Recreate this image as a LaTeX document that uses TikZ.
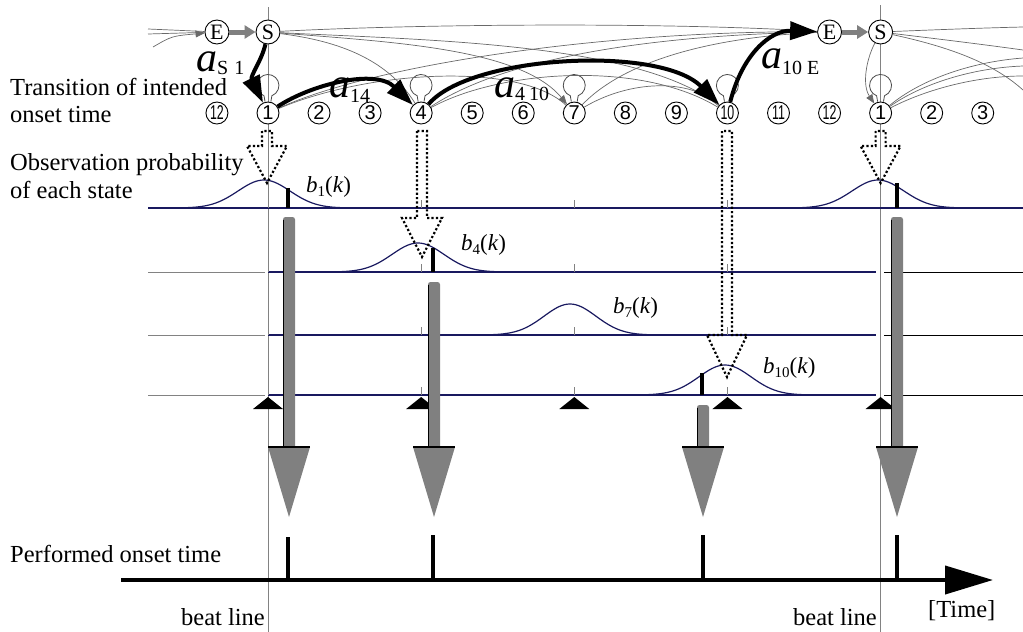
\documentclass[tikz,border=0pt]{standalone}
\usepackage{fontspec}
\usepackage{graphicx}
\setmainfont{Liberation Serif}
\newfontfamily\digitfont{Liberation Sans}
\usetikzlibrary{arrows.meta,calc}

\definecolor{navy}{RGB}{25,25,95}
\definecolor{linkgray}{RGB}{105,105,105}
\definecolor{beatgray}{RGB}{130,130,130}
\definecolor{flowgray}{RGB}{128,128,128}

\newcommand\labtext{\fontsize{24.5}{28}\selectfont}
\newcommand\bigita{\fontsize{42}{42}\selectfont\itshape a}
\newcommand\subup[2]{\raisebox{-#1}{\fontsize{20}{20}\selectfont\upshape #2}}
\newcommand\bprob[1]{{\fontsize{23}{23}\selectfont\textit{b}\raisebox{-4pt}{\fontsize{15}{15}\selectfont #1}(\textit{k})}}
\newcommand\twodig[1]{\scalebox{0.62}[1]{#1}}

% hollow dotted arrow: centre x, shaft top, head base, tip (all as positive y down)
\newcommand\probearrow[4]{%
  \draw[probe] (#1-5,-#2) -- (#1-5,-#3) -- (#1-20,-#3) -- (#1,-#4) --
    (#1+20,-#3) -- (#1+5,-#3) -- (#1+5,-#2) -- cycle;}
% thick grey arrow: centre x, shaft top
\newcommand\flowarrow[2]{%
  \fill[flow,rounded corners=2.5pt] (#1-6,-#2) rectangle (#1+6,-455);
  \draw[line width=1pt] (#1-6,-#2-3) -- (#1-6,-447);
  \fill[flow] (#1-21,-447) -- (#1+21,-447) -- (#1,-517) -- cycle;
  \draw[line width=1.2pt] (#1-21,-447) -- (#1+21,-447);}

\tikzset{
  statenode/.style={circle,draw,fill=white,line width=0.9pt,minimum size=22pt,
    inner sep=0pt,font=\digitfont\fontsize{20}{20}\selectfont},
  esnode/.style={circle,draw,fill=white,line width=0.9pt,minimum size=24pt,
    inner sep=0pt,font=\fontsize{22}{22}\selectfont},
  link/.style={draw=linkgray,line width=0.7pt},
  linkarrow/.style={link,-{Triangle[length=9pt,width=7pt]}},
  heavy/.style={draw=black,line width=4pt,-{Triangle[length=27pt,width=18pt]}},
  selfloop/.style={draw=linkgray!70!black,line width=0.8pt},
  beat/.style={draw=beatgray,line width=1pt},
  rowline/.style={draw=navy,line width=1.6pt},
  rowstub/.style={draw=beatgray,line width=1pt},
  gauss/.style={draw=navy,line width=1.2pt},
  tickmark/.style={draw=beatgray,line width=0.8pt},
  onsetbar/.style={line width=4.5pt},
  probe/.style={draw=black,line width=2.2pt,dash pattern=on 2.2pt off 2.2pt,line join=miter},
  flow/.style={fill=flowgray},
  lab/.style={anchor=base west,inner sep=0pt,font=\labtext},
}

\begin{document}
\begin{tikzpicture}[x=1pt,y=1pt]
\useasboundingbox (0,0) rectangle (1023,-632);

% beat lines
\draw[beat] (268,-7) -- (268,-632);
\draw[beat] (880.6,-5) -- (880.6,-632);

% observation rows
\draw[rowline] (148,-208) -- (1023,-208);
\foreach \yy in {272,335,395}{
  \draw[rowstub] (148,-\yy) -- (265,-\yy);
  \draw[rowline] (268,-\yy) -- (876,-\yy);
  \draw[line width=1pt] (884,-\yy) -- (1023,-\yy);
}
\foreach \yy in {208,272,335,395}
  \foreach \xx in {268,421.15,574.3,727.45}
    \draw[tickmark] (\xx,-\yy) -- (\xx,-\yy+8);

% observation probabilities
\foreach \c/\yy/\h in {264/208/28, 878/208/28, 418/272/29, 570/335/31, 725/395/30}
  \draw[gauss] plot[domain=-80:80,samples=61,smooth]
    ({\c+\x},{-\yy+\h*exp(-0.5*(\x/26)*(\x/26))});

% observed onsets inside the rows
\draw[onsetbar] (288,-208) -- (288,-188);
\draw[onsetbar] (897,-208) -- (897,-183);
\draw[onsetbar] (433,-272) -- (433,-248);
\draw[onsetbar] (702,-395) -- (702,-373);

% labels of the probability curves
\node[anchor=base west,inner sep=0pt] (b1) at (306,-192) {\bprob{1}};
\node[anchor=base west,inner sep=0pt] (b4) at (461,-250) {\bprob{4}};
\node[anchor=base west,inner sep=0pt] (b7) at (613,-313) {\bprob{7}};
\node[anchor=base west,inner sep=0pt] (b10) at (763,-373) {\bprob{10}};

% beat markers
\foreach \xx in {268,421.15,574.3,727.45,880.6}
  \fill (\xx-15,-409) -- (\xx+15,-409) -- (\xx,-397) -- cycle;

% dotted arrows from states to their curves
\probearrow{267}{131}{146}{183}
\probearrow{422}{131}{218}{257}
\probearrow{727}{131}{335}{377}
\probearrow{880.6}{131}{146}{183}

% grey arrows down to performed onsets
\flowarrow{289}{217}
\flowarrow{434}{282}
\flowarrow{703}{405}
\flowarrow{897}{217}

% time axis
\coordinate (ax0) at (121,-580);
\coordinate (ax1) at (993,-580);
\draw[line width=4pt,-{Triangle[length=48pt,width=28pt]}] (ax0) -- (ax1);
\draw[onsetbar] (288,-580) -- (288,-537);
\draw[onsetbar] (433,-580) -- (433,-535);
\draw[onsetbar] (703,-580) -- (703,-535);
\draw[onsetbar] (897,-580) -- (897,-535);

% left-hand texts
\node[lab] (t1) at (10,-95) {Transition of intended};
\node[lab] (t2) at (10,-122) {onset time};
\node[lab] (t3) at (10,-170) {Observation probability};
\node[lab] (t4) at (10,-198) {of each state};
\node[lab] (t5) at (10,-562) {Performed onset time};
\node[lab,anchor=base east] (t6) at (265,-625) {beat line};
\node[lab,anchor=base east] (t7) at (877,-625) {beat line};
\node[lab] (t8) at (928,-617) {[Time]};

% state nodes
\node[esnode] (E1) at (216.95,-32) {E};
\node[esnode] (S1) at (268,-32) {S};
\node[esnode] (E2) at (829.55,-32) {E};
\node[esnode] (S2) at (880.6,-32) {S};

\node[statenode] (s12a) at (216.95,-113) {\twodig{12}};
\node[statenode] (s1) at (268,-113) {1};
\node[statenode] (s2) at (319.05,-113) {2};
\node[statenode] (s3) at (370.1,-113) {3};
\node[statenode] (s4) at (421.15,-113) {4};
\node[statenode] (s5) at (472.2,-113) {5};
\node[statenode] (s6) at (523.25,-113) {6};
\node[statenode] (s7) at (574.3,-113) {7};
\node[statenode] (s8) at (625.35,-113) {8};
\node[statenode] (s9) at (676.4,-113) {9};
\node[statenode] (s10) at (727.45,-113) {\twodig{10}};
\node[statenode] (s11) at (778.5,-113) {\twodig{11}};
\node[statenode] (s12) at (829.55,-113) {\twodig{12}};
\node[statenode] (s1b) at (880.6,-113) {1};
\node[statenode] (s2b) at (931.65,-113) {2};
\node[statenode] (s3b) at (982.7,-113) {3};

% self transitions
\foreach \s in {s1,s4,s7,s10,s1b}
  \draw[selfloop] ($(\s.north)+(-3,0)$) -- ++(-1,5.8)
    arc[start angle=249,end angle=-69,radius=11] -- ++(-1,-5.8);

% thin transitions
\coordinate (inA) at (148,-29);
\coordinate (inB) at (148,-34);
\coordinate (inC) at (153,-47);
\draw[link] (inA) -- (E1);
\draw[link] (inB) -- (E1);
\draw[linkarrow] (inC) .. controls (172,-36) .. (E1);

\draw[link] (S1) .. controls (420,-24) and (660,-22) .. (E2);
\draw[link] (S1) .. controls (420,-40) and (640,-42) .. (s10);
\draw[linkarrow] (S1) .. controls (390,-42) and (520,-48) .. (s7);
\draw[link] (S1) .. controls (330,-40) and (385,-55) .. (s4);
\draw[link] (s1) .. controls (380,-62) and (620,-30) .. (E2);
\draw[link] (s1) .. controls (370,-70) and (520,-62) .. (s7);
\draw[link] (s4) .. controls (520,-48) and (700,-34) .. (E2);
\draw[link] (s4) .. controls (500,-70) and (640,-60) .. (s10);
\draw[link] (s7) .. controls (630,-55) and (730,-36) .. (E2);
\draw[link] (s7) .. controls (630,-80) and (690,-78) .. (s10);

\coordinate (r1) at (1023,-27);
\coordinate (r2) at (1023,-50);
\coordinate (r3) at (1023,-90);
\coordinate (r4) at (1023,-58);
\coordinate (r5) at (1023,-66);
\coordinate (r6) at (1023,-76);
\draw[link] (S2) .. controls (930,-30) and (980,-28) .. (r1);
\draw[link] (S2) .. controls (930,-38) and (980,-44) .. (r2);
\draw[link] (S2) .. controls (940,-45) and (990,-60) .. (r3);
\draw[link] (s1b) .. controls (920,-80) and (970,-62) .. (r4);
\draw[link] (s1b) .. controls (920,-85) and (970,-68) .. (r5);
\draw[link] (s1b) .. controls (925,-90) and (975,-76) .. (r6);
\draw[linkarrow] (S2) .. controls (866,-60) and (862,-85) .. (s1b);

% end to start of the next bar
\draw[draw=flowgray,line width=5pt,-{Triangle[length=11pt,width=13pt]}] (E1) -- (S1);
\draw[draw=flowgray,line width=5pt,-{Triangle[length=11pt,width=13pt]}] (E2) -- (S2);

% highlighted transitions
\draw[heavy] (S1) .. controls (262,-60) and (250,-76) .. (s1);
\draw[heavy] (s1) .. controls (310,-85) and (375,-68) .. (s4);
\draw[heavy] (s4) .. controls (470,-55) and (660,-45) .. (s10);
\draw[heavy] (s10) .. controls (742,-55) and (770,-30) .. (E2);

\node[anchor=base west,inner sep=0pt] (aS1) at (196,-71) {{\bigita}\subup{3pt}{S\hspace{6pt}1}};
\node[anchor=base west,inner sep=0pt] (a14) at (329,-97) {{\bigita}\subup{5pt}{14}};
\node[anchor=base west,inner sep=0pt] (a410) at (494,-97) {{\bigita}\subup{3pt}{4\hspace{4pt}10}};
\node[anchor=base west,inner sep=0pt] (a10E) at (761,-68) {{\bigita}\subup{6pt}{10\hspace{5pt}E}};
\end{tikzpicture}
\end{document}
